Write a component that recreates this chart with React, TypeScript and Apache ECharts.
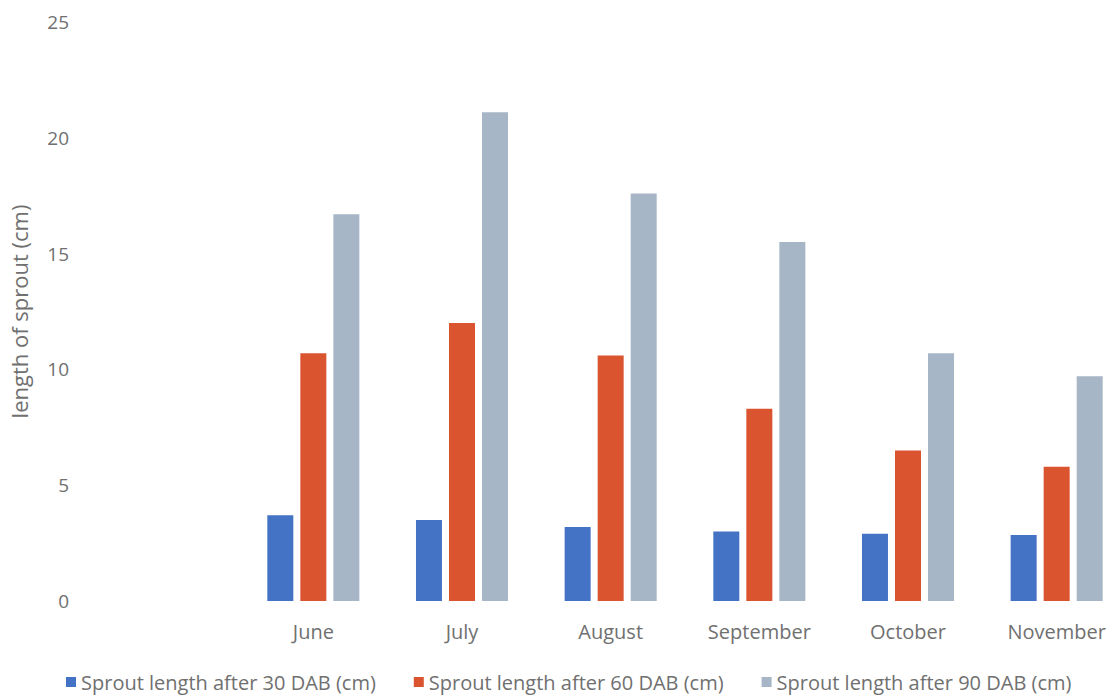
import React, { useEffect, useRef } from "react";
import * as echarts from "echarts";

const months = ["June", "July", "August", "September", "October", "November"];
const after30 = [3.7, 3.5, 3.2, 3.0, 2.9, 2.85];
const after60 = [10.7, 12.0, 10.6, 8.3, 6.5, 5.8];
const after90 = [16.7, 21.1, 17.6, 15.5, 10.7, 9.7];
const yTicks = { min: 0, max: 25, interval: 5 };

const FONT = "'Open Sans', Lato, sans-serif";
const TEXT = "#707070";
const FS = 20;

export default function App() {
  const ref = useRef<HTMLDivElement>(null);

  useEffect(() => {
    if (!ref.current) return;
    const chart = echarts.init(ref.current, undefined, { renderer: "svg" });
    chart.setOption({
      animation: false,
      textStyle: { fontFamily: FONT },
      grid: { left: 235, top: 22, width: 896, bottom: 94, containLabel: false },
      legend: {
        left: 66,
        top: 672,
        padding: 0,
        icon: "rect",
        itemWidth: 10,
        itemHeight: 10,
        itemGap: 38,
        textStyle: { fontSize: FS, color: TEXT, fontFamily: FONT },
      },
      xAxis: {
        type: "category",
        data: months,
        axisLine: { show: false },
        axisTick: { show: false },
        axisLabel: { fontSize: FS, color: TEXT, margin: 20, fontFamily: FONT },
      },
      yAxis: {
        type: "value",
        min: yTicks.min,
        max: yTicks.max,
        interval: yTicks.interval,
        name: "length of sprout (cm)",
        nameLocation: "middle",
        nameGap: 209,
        nameRotate: 90,
        nameTextStyle: { fontSize: 22, color: TEXT, fontFamily: FONT },
        axisLine: { show: false },
        axisTick: { show: false },
        splitLine: { show: false },
        axisLabel: { fontSize: 19, color: TEXT, margin: 170, fontFamily: FONT },
      },
      series: [
        {
          name: "Sprout length after 30 DAB (cm)",
          type: "bar",
          data: after30,
          barWidth: 26,
          barGap: "27%",
          itemStyle: { color: "#4472C4" },
        },
        {
          name: "Sprout length after 60 DAB (cm)",
          type: "bar",
          data: after60,
          barWidth: 26,
          barGap: "27%",
          itemStyle: { color: "#DA5430" },
        },
        {
          name: "Sprout length after 90 DAB (cm)",
          type: "bar",
          data: after90,
          barWidth: 26,
          barGap: "27%",
          itemStyle: { color: "#A7B6C6" },
        },
      ],
    });
    return () => chart.dispose();
  }, []);

  // The plot area runs a little past the right edge of the visible frame,
  // so the chart canvas is wider than the clipping box around it.
  return (
    <div style={{ position: "absolute", left: 0, top: 0, width: 1118, height: 695, overflow: "hidden", background: "#fff" }}>
      <div ref={ref} style={{ width: 1140, height: 695 }} />
    </div>
  );
}
